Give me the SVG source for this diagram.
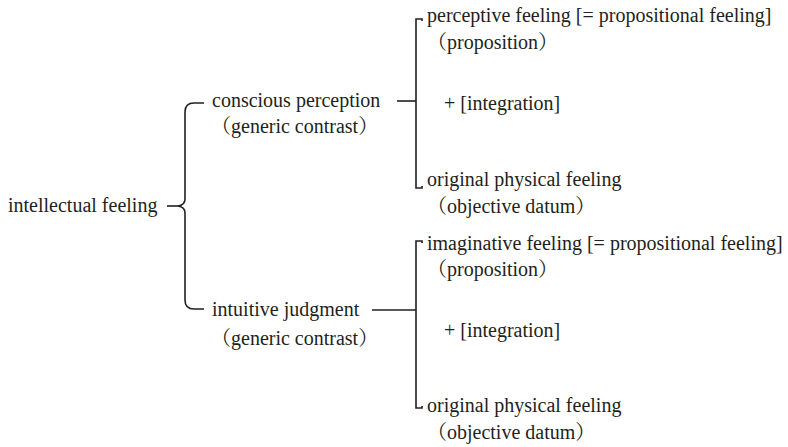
<svg xmlns="http://www.w3.org/2000/svg" width="788" height="447" viewBox="0 0 788 447">
<style>
text{font-family:'Liberation Serif','Noto Serif CJK JP',serif;font-size:20px;fill:#231f20}
.ln{fill:none;stroke:#231f20;stroke-width:1.6}
</style>
<rect width="788" height="447" fill="#fff"/>
<g id="connectors">
<path class="ln" d="M167,206 L180,206"/>
<path class="ln" d="M204,103 L194,103 Q185,103 185,112 L185,199 Q185,205 178,206 Q185,207 185,213 L185,300 Q185,309 194,309 L204,309"/>
<path class="ln" d="M397,101 L416,101"/>
<path class="ln" d="M422,21 L422,19 L416,19 L416,188 L422,188 L422,186"/>
<path class="ln" d="M372,310 L416,310"/>
<path class="ln" d="M422,243 L422,241 L416,241 L416,408 L422,408 L422,406"/>
</g>
<g id="intellectual-feeling"><text x="8" y="212">intellectual feeling</text></g>
<g id="conscious-perception"><text x="212" y="107">conscious perception</text><text x="211" y="133">（generic contrast）</text></g>
<g id="intuitive-judgment"><text x="212" y="316">intuitive judgment</text><text x="211" y="345">（generic contrast）</text></g>
<g id="perceptive-feeling"><text x="427" y="22">perceptive feeling [= propositional feeling]</text><text x="427" y="49">（proposition）</text></g>
<g id="integration-1"><text x="444" y="110">+ [integration]</text></g>
<g id="original-physical-1"><text x="427" y="186">original physical feeling</text><text x="427" y="213">（objective datum）</text></g>
<g id="imaginative-feeling"><text x="427" y="250">imaginative feeling [= propositional feeling]</text><text x="427" y="276">（proposition）</text></g>
<g id="integration-2"><text x="444" y="337">+ [integration]</text></g>
<g id="original-physical-2"><text x="427" y="412">original physical feeling</text><text x="427" y="439">（objective datum）</text></g>
</svg>
